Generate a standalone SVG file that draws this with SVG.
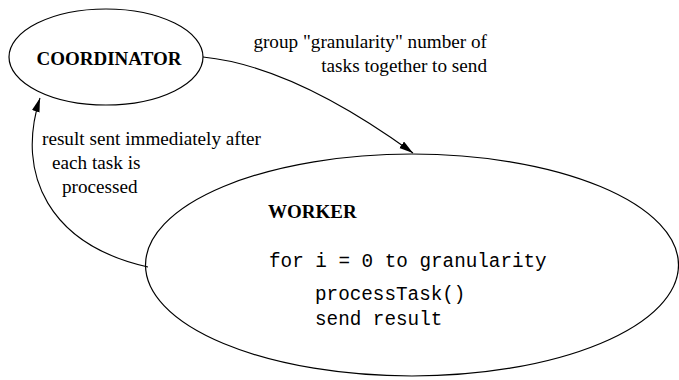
<svg xmlns="http://www.w3.org/2000/svg" width="679" height="380" viewBox="0 0 679 380">
<style>
.node{fill:#fff;stroke:#000;stroke-width:1.2}
.conn{fill:none;stroke:#000;stroke-width:1.1}
.title{font-family:"Liberation Serif","Times New Roman",serif;font-weight:bold;font-size:19px;fill:#000}
.label{font-family:"Liberation Serif","Times New Roman",serif;font-size:19.2px;fill:#000}
.code{font-family:"Liberation Mono","Courier New",monospace;font-size:19.3px;fill:#000}
</style>
<defs>
<marker id="arrow" markerUnits="userSpaceOnUse" markerWidth="16" markerHeight="10" refX="14" refY="4" orient="auto">
<path d="M0,0 L14,4 L0,8 z" fill="#000"/>
</marker>
</defs>
<rect width="679" height="380" fill="#fff"/>
<g id="coordinator">
<ellipse class="node" cx="106" cy="57" rx="97" ry="48"/>
<text class="title" x="109" y="65" text-anchor="middle">COORDINATOR</text>
</g>
<g id="worker">
<ellipse class="node" cx="412" cy="265" rx="266.5" ry="111"/>
<text class="title" x="268" y="218">WORKER</text>
<text class="code" x="269" y="267">for i = 0 to granularity</text>
<text class="code" x="315" y="300">processTask()</text>
<text class="code" x="315" y="325">send result</text>
</g>
<g id="connectors">
<path class="conn" d="M203,57 Q293,66 413,153" marker-end="url(#arrow)"/>
<path class="conn" d="M148,267 C50,245 15,175 40,98" marker-end="url(#arrow)"/>
</g>
<g id="labels">
<text class="label" x="487" y="48" text-anchor="end">group "granularity" number of</text>
<text class="label" x="487" y="72" text-anchor="end">tasks together to send</text>
<text class="label" x="42" y="145">result sent immediately after</text>
<text class="label" x="52" y="169">each task is</text>
<text class="label" x="62" y="193">processed</text>
</g>
</svg>
